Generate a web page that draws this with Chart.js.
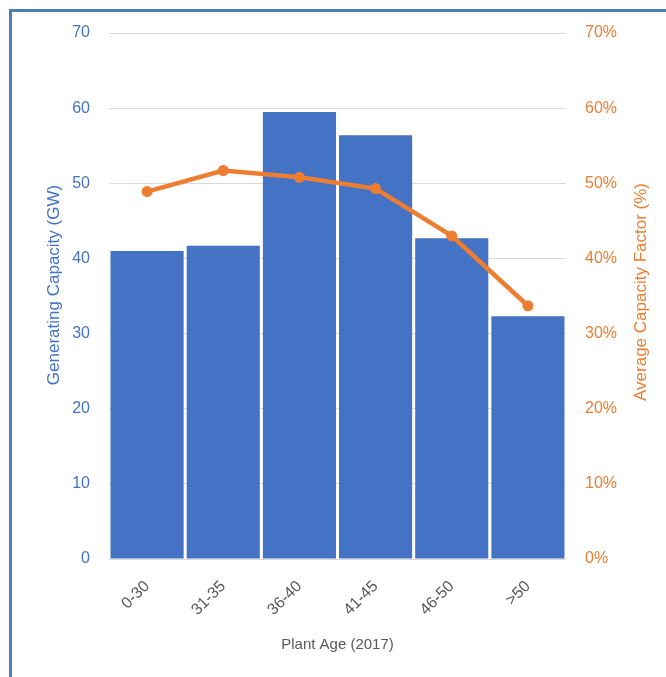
<!DOCTYPE html>
<html>
<head>
<meta charset="utf-8">
<script src="https://cdn.jsdelivr.net/npm/chart.js@4"></script>
<style>
  html, body { margin: 0; padding: 0; background: #fff; overflow: hidden; }
  #wrap { position: relative; width: 666px; height: 677px; }
  #frame {
    position: absolute; left: 9px; top: 9px; width: 700px; height: 700px;
    border-left: 3px solid #4a7ebf; border-top: 3px solid #4a7ebf;
  }
  #chart { position: absolute; left: 0; top: 0; }
</style>
</head>
<body>
<div id="wrap">
  <div id="frame"></div>
  <canvas id="chart" width="666" height="677"></canvas>
</div>
<script>
const ageGroups = ["0-30", "31-35", "36-40", "41-45", "46-50", ">50"];
const capacityGW = [41.0, 41.7, 59.5, 56.4, 42.7, 32.3];
const capacityFactor = [0.489, 0.517, 0.508, 0.493, 0.430, 0.337];

const BLUE = "#4472C4";
const ORANGE = "#ED7D31";
const GREY = "#595959";
const FONT = "'Liberation Sans', Arial, sans-serif";

// vertical axis titles, both reading bottom-to-top
const axisTitles = {
  id: "axisTitles",
  afterDraw(chart) {
    const ctx = chart.ctx;
    ctx.save();
    ctx.font = "17px " + FONT;
    ctx.textAlign = "center";
    ctx.textBaseline = "middle";

    ctx.fillStyle = BLUE;
    ctx.save();
    ctx.translate(54, 285);
    ctx.rotate(-Math.PI / 2);
    ctx.fillText("Generating Capacity (GW)", 0, 0);
    ctx.restore();

    ctx.fillStyle = ORANGE;
    ctx.translate(641, 292);
    ctx.rotate(-Math.PI / 2);
    ctx.fillText("Average Capacity Factor (%)", 0, 0);
    ctx.restore();
  }
};

new Chart(document.getElementById("chart").getContext("2d"), {
  data: {
    labels: ageGroups,
    datasets: [
      {
        type: "line",
        label: "Average Capacity Factor",
        data: capacityFactor,
        yAxisID: "y1",
        borderColor: ORANGE,
        backgroundColor: ORANGE,
        borderWidth: 4.5,
        pointRadius: 5.5,
        pointBorderWidth: 0,
        tension: 0,
        order: 0
      },
      {
        type: "bar",
        label: "Generating Capacity",
        data: capacityGW,
        yAxisID: "y",
        backgroundColor: BLUE,
        barPercentage: 0.96,
        categoryPercentage: 1,
        order: 1
      }
    ]
  },
  options: {
    responsive: false,
    animation: false,
    layout: { padding: { top: 33, left: 0, right: 0, bottom: 0 } },
    plugins: {
      legend: { display: false },
      tooltip: { enabled: false }
    },
    scales: {
      x: {
        position: "bottom",
        grid: { display: false },
        border: { display: false },
        ticks: {
          color: GREY,
          font: { family: FONT, size: 16 },
          minRotation: 45,
          maxRotation: 45,
          padding: 10
        },
        title: {
          display: true,
          text: "Plant Age (2017)",
          color: GREY,
          font: { family: FONT, size: 15 },
          padding: { top: 0, bottom: 23 }
        },
        afterFit(scale) { scale.height = 118; }
      },
      y: {
        position: "left",
        min: 0,
        max: 70,
        ticks: {
          stepSize: 10,
          color: BLUE,
          font: { family: FONT, size: 16 },
          padding: 19
        },
        grid: { color: "#d9d9d9", lineWidth: 1, drawTicks: false },
        border: { display: false },
        afterFit(scale) { scale.width = 109; }
      },
      y1: {
        position: "right",
        min: 0,
        max: 0.7,
        ticks: {
          stepSize: 0.1,
          color: ORANGE,
          font: { family: FONT, size: 16 },
          padding: 19,
          callback: v => Math.round(v * 100) + "%"
        },
        grid: { display: false, drawTicks: false },
        border: { display: false },
        afterFit(scale) { scale.width = 100; }
      }
    }
  },
  plugins: [axisTitles]
});
</script>
</body>
</html>
